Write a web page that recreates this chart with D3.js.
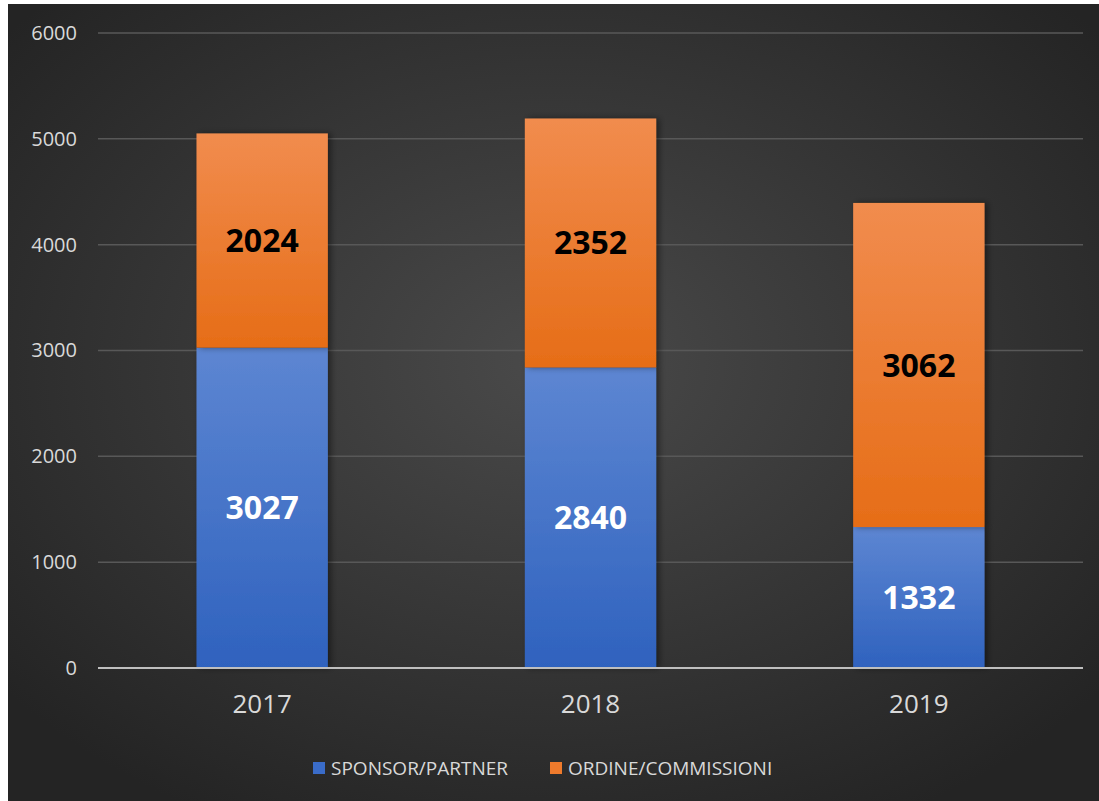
<!DOCTYPE html>
<html>
<head>
<meta charset="utf-8">
<script src="https://cdn.jsdelivr.net/npm/d3@7"></script>
<style>
  html, body { margin: 0; padding: 0; background: #ffffff; }
  svg { display: block; }
</style>
</head>
<body>
<script>
// ---------- data ----------
var years = ['2017', '2018', '2019'];
var sponsor = [3027, 2840, 1332];
var ordine = [2024, 2352, 3062];
var seriesNames = ['SPONSOR/PARTNER', 'ORDINE/COMMISSIONI'];
var yTicks = [0, 1000, 2000, 3000, 4000, 5000, 6000];

// ---------- layout ----------
var W = 1099, H = 801;
var panel = {x: 8, y: 4};
var plot = {left: 98, right: 1083, top: 33, bottom: 668};
var font = "'Open Sans', 'Noto Sans', sans-serif";

var svg = d3.select('body').append('svg').attr('width', W).attr('height', H);
var defs = svg.append('defs');

var bg = defs.append('radialGradient').attr('id', 'bg')
  .attr('cx', '50%').attr('cy', '45%').attr('r', '65%');
bg.append('stop').attr('offset', '0%').attr('stop-color', '#4a4a4a');
bg.append('stop').attr('offset', '100%').attr('stop-color', '#242424');

function vGrad(id, top, bottom) {
  var g = defs.append('linearGradient').attr('id', id)
    .attr('x1', 0).attr('y1', 0).attr('x2', 0).attr('y2', 1);
  g.append('stop').attr('offset', '0%').attr('stop-color', top);
  g.append('stop').attr('offset', '100%').attr('stop-color', bottom);
}
vGrad('gBlue', '#5d86d2', '#2f62be');
vGrad('gOrange', '#f18c4e', '#e66d17');

var shadow = defs.append('filter').attr('id', 'shadow')
  .attr('x', '-10%').attr('y', '-10%').attr('width', '130%').attr('height', '120%');
shadow.append('feDropShadow').attr('dx', 3).attr('dy', 0).attr('stdDeviation', 3)
  .attr('flood-color', '#000').attr('flood-opacity', 0.45);

svg.append('rect').attr('x', panel.x).attr('y', panel.y)
  .attr('width', W - panel.x).attr('height', H - panel.y)
  .attr('fill', 'url(#bg)');

// ---------- scales ----------
var x = d3.scaleBand().domain(years).range([plot.left, plot.right]).paddingInner(0.6).paddingOuter(0.3);
var y = d3.scaleLinear().domain([0, 6000]).range([plot.bottom, plot.top]);

// gridlines
svg.append('g').selectAll('line').data(yTicks.filter(function(d){ return d > 0; }))
  .join('line')
  .attr('x1', plot.left).attr('x2', plot.right)
  .attr('y1', function(d){ return y(d); }).attr('y2', function(d){ return y(d); })
  .attr('stroke', '#585858').attr('stroke-width', 1.5);

// y axis labels
var yAxis = d3.axisLeft(y).tickValues(yTicks).tickFormat(d3.format('d')).tickSize(0).tickPadding(0);
var yg = svg.append('g').attr('transform', 'translate(77,0)').call(yAxis);
yg.select('.domain').remove();
yg.selectAll('text').attr('fill', '#d9d9d9').style('font-family', font).style('font-size', '20px');

// stacked bars
var stackData = years.map(function(yr, i){ return {year: yr, s: sponsor[i], o: ordine[i]}; });
var stack = d3.stack().keys(['s', 'o'])(stackData);
var fills = ['url(#gBlue)', 'url(#gOrange)'];
var textColors = ['#ffffff', '#000000'];

stack.forEach(function(layer, li){
  var g = svg.append('g');
  g.selectAll('rect').data(layer).join('rect')
    .attr('x', function(d){ return x(d.data.year); })
    .attr('width', x.bandwidth())
    .attr('y', function(d){ return y(d[1]); })
    .attr('height', function(d){ return y(d[0]) - y(d[1]); })
    .attr('fill', fills[li])
    .attr('filter', 'url(#shadow)');
});
stack.forEach(function(layer, li){
  svg.append('g').selectAll('text').data(layer).join('text')
    .attr('x', function(d){ return x(d.data.year) + x.bandwidth() / 2; })
    .attr('y', function(d){ return y((d[0] + d[1]) / 2); })
    .attr('dy', '0.36em')
    .attr('text-anchor', 'middle')
    .attr('fill', textColors[li])
    .style('font-family', font).style('font-weight', 'bold').style('font-size', '32px')
    .text(function(d){ return d[1] - d[0]; });
});

// zero axis line
svg.append('line').attr('x1', plot.left).attr('x2', plot.right)
  .attr('y1', y(0)).attr('y2', y(0))
  .attr('stroke', '#bfbfbf').attr('stroke-width', 2);

// x axis labels
var xAxis = d3.axisBottom(x).tickSize(0).tickPadding(0);
var xg = svg.append('g').attr('transform', 'translate(0,' + (plot.bottom + 27) + ')').call(xAxis);
xg.select('.domain').remove();
xg.selectAll('text').attr('fill', '#d9d9d9').style('font-family', font).style('font-size', '26px');

// legend
var legendColors = ['#3a6cc9', '#ee7a2c'];
var legendX = [313, 550];
var lg = svg.append('g');
seriesNames.forEach(function(name, i){
  lg.append('rect').attr('x', legendX[i]).attr('y', 762).attr('width', 12).attr('height', 12)
    .attr('fill', legendColors[i]);
  lg.append('text').attr('x', legendX[i] + 18).attr('y', 768).attr('dy', '0.36em')
    .attr('fill', '#d9d9d9').style('font-family', font).style('font-size', '19px')
    .text(name);
});
</script>
</body>
</html>
